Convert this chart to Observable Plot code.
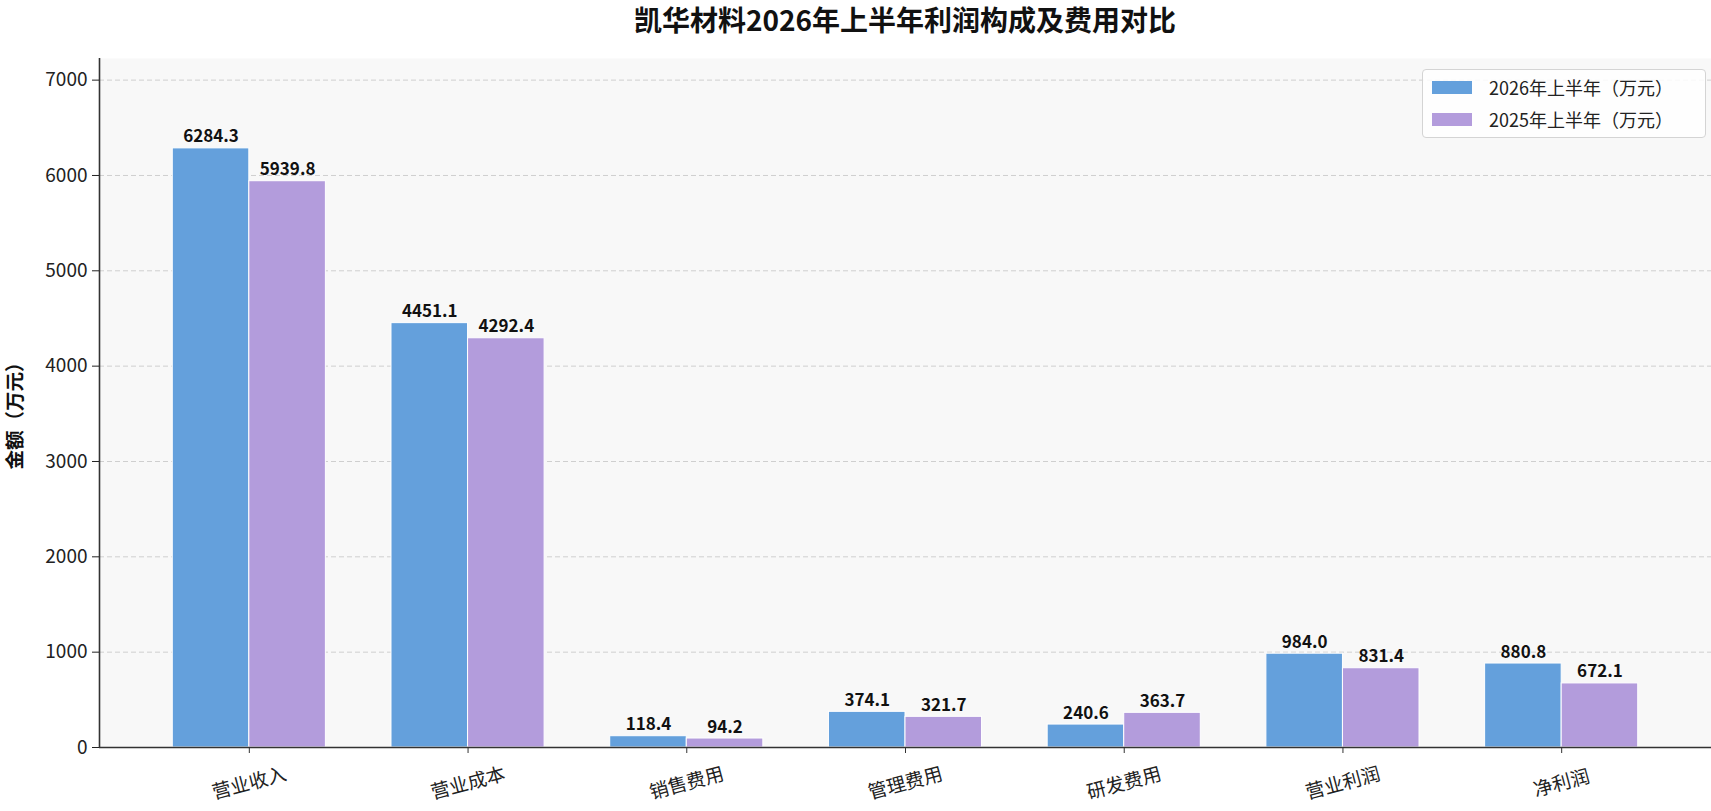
<!DOCTYPE html>
<html>
<head>
<meta charset="utf-8">
<script src="https://cdn.jsdelivr.net/npm/d3@7"></script>
<script src="https://cdn.jsdelivr.net/npm/@observablehq/plot@0.6"></script>
<style>
  html, body { margin: 0; padding: 0; background: #fff; }
  body { font-family: "Noto Sans CJK SC", "Noto Sans", sans-serif; color: #222; }
  #wrap { position: relative; width: 1711px; height: 811px; overflow: hidden; }
  #title { height: 58px; width: 1711px; position: relative; }
  #title span { position: absolute; left: 0; width: 1711px; padding-left: 99px; box-sizing: border-box;
    text-align: center; top: 0px; font-size: 28px; font-weight: bold; color: #111; line-height: 38px; }
  #legend { position: absolute; left: 1422px; top: 69px; width: 282px; height: 67px;
    border: 1px solid #d4d4d4; border-radius: 4px; background: rgba(255,255,255,0.85); box-sizing: content-box; }
  .row { position: absolute; left: 9px; height: 24px; display: flex; align-items: center; }
  .sw { width: 40px; height: 13px; margin-right: 17px; }
  .lt { font-size: 18px; color: #222; white-space: nowrap; }
  svg { display: block; overflow: visible; }
</style>
</head>
<body>
<div id="wrap">
  <div id="title"><span>凯华材料2026年上半年利润构成及费用对比</span></div>
  <div id="chart"></div>
  <div id="legend"></div>
</div>
<script>
const categories = ["营业收入", "营业成本", "销售费用", "管理费用", "研发费用", "营业利润", "净利润"];
const values2026 = [6284.3, 4451.1, 118.4, 374.1, 240.6, 984.0, 880.8];
const values2025 = [5939.8, 4292.4, 94.2, 321.7, 363.7, 831.4, 672.1];
const seriesNames = ["2026年上半年（万元）", "2025年上半年（万元）"];
const seriesColors = ["#64a0dc", "#b39cdc"];
const yTicks = [0, 1000, 2000, 3000, 4000, 5000, 6000, 7000];
const yLabel = "金额（万元）";

const barW = 0.35;
const rows = [];
categories.forEach((c, i) => {
  rows.push({i, cat: c, s: 0, value: values2026[i], off: -barW});
  rows.push({i, cat: c, s: 1, value: values2025[i], off: 0});
});
const n = categories.length;
const xDomain = [-barW - 0.05 * (n - 1 + 2 * barW), (n - 1) + barW + 0.05 * (n - 1 + 2 * barW)];
const yMax = d3.max(values2026.concat(values2025)) * 1.15;

const chart = Plot.plot({
  width: 1711,
  height: 753,
  marginTop: 0,
  marginBottom: 64,
  marginLeft: 99,
  marginRight: 0,
  style: { fontFamily: '"Noto Sans CJK SC", "Noto Sans", sans-serif', background: "#fff", overflow: "visible" },
  x: { type: "linear", domain: xDomain },
  y: { domain: [0, yMax] },
  marks: [
    Plot.frame({ fill: "#f8f8f8", stroke: null }),
    Plot.gridY(yTicks.slice(1), { stroke: "#cfcfcf", strokeOpacity: 1, strokeWidth: 1, strokeDasharray: "5,3" }),
    Plot.rectY(rows, {
      x1: d => d.i + d.off, x2: d => d.i + d.off + barW,
      y1: 0, y2: "value",
      fill: d => seriesColors[d.s], stroke: "#fff", strokeWidth: 1, inset: 0
    }),
    Plot.text(rows, {
      x: d => d.i + d.off + barW / 2, y: "value",
      text: d => d.value.toFixed(1), dy: -6, lineAnchor: "bottom",
      fontSize: 17, fontWeight: "bold", fill: "#111"
    }),
    Plot.ruleY([0], { stroke: "#333", strokeWidth: 1.6 }),
    Plot.ruleX([xDomain[0]], { stroke: "#333", strokeWidth: 1.6 }),
    Plot.axisY({ ticks: yTicks, tickSize: 7, tickPadding: 5, fontSize: 19, color: "#222", label: null, tickFormat: d => String(d) }),
    Plot.axisX({ ticks: d3.range(n), tickSize: 6, tickFormat: () => "", color: "#333", label: null }),
    Plot.text(categories, {
      x: (d, i) => i, y: () => 0, text: d => d,
      dy: 36, rotate: -15, textAnchor: "middle", lineAnchor: "middle",
      fontSize: 19, fill: "#222"
    }),
    Plot.text([yLabel], {
      frameAnchor: "left", text: d => d, rotate: -90,
      dx: -84, dy: 8, fontSize: 19.5, fontWeight: "bold", fill: "#111", textAnchor: "middle"
    })
  ]
});
document.getElementById("chart").appendChild(chart);

const legend = document.getElementById("legend");
seriesNames.forEach((name, k) => {
  const row = document.createElement("div");
  row.className = "row";
  row.style.top = (5 + k * 32) + "px";
  row.innerHTML = `<div class="sw" style="background:${seriesColors[k]}"></div><div class="lt">${name}</div>`;
  legend.appendChild(row);
});
</script>
</body>
</html>
